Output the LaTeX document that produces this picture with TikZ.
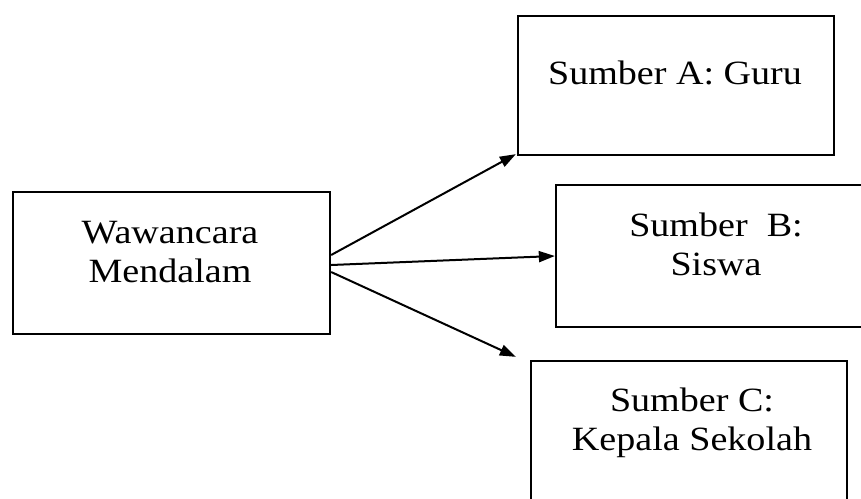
\documentclass[tikz,border=0pt]{standalone}
\usepackage{fontspec}
\setmainfont{Liberation Serif}[FakeStretch=1.12]
\usetikzlibrary{arrows.meta,calc}
\begin{document}
\begin{tikzpicture}[x=1pt,y=-1pt,
  box/.style={draw=black,line width=2.3pt,inner sep=0pt,fill=white},
  lbl/.style={align=center,inner sep=0pt,anchor=base,font=\fontsize{34}{38.5}\selectfont},
  conn/.style={line width=2pt,-{Triangle[length=16pt,width=11pt]}}]
\useasboundingbox (0,0) rectangle (861,498);
\clip (0,0) rectangle (861,498);
\fill[white] (0,0) rectangle (861,498);
\node[box,minimum width=317pt,minimum height=142pt] (W) at (171.5,263) {};
\node[box,minimum width=316pt,minimum height=139pt] (A) at (676,85.5) {};
\node[box,minimum width=320pt,minimum height=142pt] (B) at (716,256) {};
\node[box,minimum width=316pt,minimum height=160pt] (C) at (689,441) {};
\node[lbl] (tW) at (170,282) {Wawancara\\Mendalam};
\node[lbl] (tA) at (675,84) {Sumber A: Guru};
\node[lbl] (tB) at (716,275) {Sumber\ \ B:\\Siswa};
\node[lbl] (tC) at (692,450) {Sumber C:\\Kepala Sekolah};
\coordinate (eA) at ($(A.south west)+(-1,-2)$);
\coordinate (eC) at ($(C.north west)+(-14,-3)$);
\draw[conn] ($(W.east)+(0,-8)$) -- (eA);
\draw[conn] ($(W.east)+(0,2)$) -- (B.west);
\draw[conn] ($(W.east)+(0,9)$) -- (eC);
\end{tikzpicture}
\end{document}
